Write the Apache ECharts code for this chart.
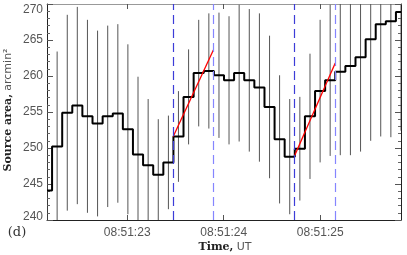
<!DOCTYPE html>
<html><head><meta charset="utf-8">
<script src="https://cdn.jsdelivr.net/npm/echarts@6/dist/echarts.min.js"></script>
<style>html,body{margin:0;padding:0;background:#fff}#c{width:407px;height:255px}</style>
</head><body><div id="c"></div>
<script>
// time in seconds after 08:51:00 UT (bin centres)
const times = [22.169,22.274,22.379,22.483,22.588,22.693,22.798,22.903,23.007,23.112,
  23.217,23.322,23.427,23.531,23.636,23.741,23.846,23.951,24.055,24.160,
  24.265,24.370,24.475,24.579,24.684,24.789,24.894,24.999,25.103,25.208,
  25.313,25.418,25.523,25.627,25.732,25.837];
// source area, arcmin^2
const area = [244.1,250.2,254.9,255.9,254.4,253.4,254.4,254.8,252.6,249.1,
  247.6,246.3,248.0,251.6,257.1,260.4,260.7,260.1,259.4,260.4,
  259.4,258.4,255.7,251.2,248.8,249.9,254.4,257.9,259.4,260.6,
  261.4,262.6,265.1,267.2,267.6,268.9];
// error (half length of bar)
const errs = [12.0,13.2,13.6,13.7,13.4,12.9,12.6,12.4,11.8,10.8,
  9.2,7.7,6.5,6.3,6.6,7.4,8.0,8.7,8.9,9.5,
  9.9,10.3,9.9,8.9,8.0,7.2,8.7,9.9,10.5,11.6,
  12.4,13.1,14.1,15.6,16.1,16.5];
const tickTimes = [23, 24, 25];
const tickLabels = ['08:51:23', '08:51:24', '08:51:25'];
const dashTimes = [23.477, 23.893, 24.733, 25.156];
const fit1 = [[23.477, 251.6], [23.893, 263.6]];
const fit2 = [[24.733, 248.9], [25.156, 261.8]];

const xMin = times[0], xMax = times[times.length - 1];
const yMin = 240, yMax = 270;

const chart = echarts.init(document.getElementById('c'), null, {renderer: 'canvas'});
const xBase = {
  type: 'value', min: xMin, max: xMax,
  splitLine: {show: false},
  axisTick: {show: true, inside: true, length: 5, customValues: tickTimes, lineStyle: {color: '#555'}},
  minorTick: {show: false}
};
const yBase = {
  type: 'value', min: yMin, max: yMax, interval: 5,
  splitLine: {show: false},
  axisTick: {show: true, inside: true, length: 6, lineStyle: {color: '#555'}},
  minorTick: {show: true, splitNumber: 5, length: 3, lineStyle: {color: '#666'}}
};
const lblFont = {fontFamily: 'Liberation Sans', fontSize: 12, color: '#555'};
chart.setOption({
  animation: false,
  grid: {left: 47, right: 6, top: 4, bottom: 35, containLabel: false},
  xAxis: [
    Object.assign({}, xBase, {
      position: 'bottom',
      axisLine: {show: true, onZero: false, lineStyle: {color: '#222', width: 1}},
      axisLabel: Object.assign({show: true, margin: 7, customValues: tickTimes,
        formatter: v => tickLabels[tickTimes.indexOf(Math.round(v))]}, lblFont)
    }),
    Object.assign({}, xBase, {
      position: 'top',
      axisLine: {show: true, onZero: false, lineStyle: {color: '#999', width: 1}},
      axisLabel: {show: false}
    })
  ],
  yAxis: [
    Object.assign({}, yBase, {
      position: 'left',
      axisLine: {show: true, onZero: false, lineStyle: {color: '#222', width: 1}},
      axisLabel: Object.assign({show: true, margin: 4,
        formatter: v => v === yMax ? '{t|' + v + '}' : (v === yMin ? '{b|' + v + '}' : '{n|' + v + '}'),
        rich: {
          t: Object.assign({padding: [12, 0, 0, 0]}, lblFont),
          b: Object.assign({padding: [0, 0, 6, 0]}, lblFont),
          n: Object.assign({}, lblFont)
        }}, lblFont)
    }),
    Object.assign({}, yBase, {
      position: 'right',
      axisLine: {show: true, onZero: false, lineStyle: {color: '#222', width: 1}},
      axisLabel: {show: false}
    })
  ],
  series: [
    {
      type: 'custom', clip: true, z: 1,
      data: times.map((t, i) => [t, area[i], errs[i]]),
      renderItem: function (params, api) {
        const t = api.value(0), v = api.value(1), e = api.value(2);
        const lo = Math.max(yMin, v - e), hi = Math.min(yMax, v + e);
        const p1 = api.coord([t, lo]), p2 = api.coord([t, hi]);
        return {type: 'line', shape: {x1: p1[0], y1: p1[1], x2: p2[0], y2: p2[1]},
          style: {stroke: '#555', lineWidth: 1}};
      }
    },
    {
      type: 'line', step: 'middle', z: 2, symbol: 'none',
      data: times.map((t, i) => [t, area[i]]),
      lineStyle: {color: '#000', width: 2}
    },
    {
      type: 'line', z: 3, symbol: 'none', data: [],
      markLine: {
        symbol: ['none', 'none'], silent: true, label: {show: false},
        data: dashTimes.map((t, i) => ({xAxis: t,
          lineStyle: {type: [9, 5], width: 1.2, color: i % 2 === 0 ? '#3c3cd8' : '#8585ff'}}))
      }
    },
    {type: 'line', z: 4, symbol: 'none', data: fit1, lineStyle: {color: '#ff0000', width: 1.3}},
    {type: 'line', z: 4, symbol: 'none', data: fit2, lineStyle: {color: '#ff0000', width: 1.3}}
  ],
  graphic: [
    {type: 'text', x: 8, y: 110, rotation: Math.PI / 2,
      style: {text: '{b|Source area,} {s|arcmin²}', align: 'center', verticalAlign: 'middle',
        rich: {
          b: {fontFamily: 'DejaVu Serif', fontWeight: 'bold', fontSize: 11, fill: '#222'},
          s: {fontFamily: 'DejaVu Sans', fontSize: 11, fill: '#555'}
        }}},
    {type: 'text', x: 225, y: 247,
      style: {text: '{b|Time,} {s|UT}', align: 'center', verticalAlign: 'middle',
        rich: {
          b: {fontFamily: 'DejaVu Serif', fontWeight: 'bold', fontSize: 11, fill: '#222'},
          s: {fontFamily: 'DejaVu Sans', fontSize: 11, fill: '#555'}
        }}},
    {type: 'text', x: 17, y: 233,
      style: {text: '(d)', align: 'center', verticalAlign: 'middle',
        fontFamily: 'DejaVu Serif', fontSize: 13, fill: '#333'}}
  ]
});
</script></body></html>
